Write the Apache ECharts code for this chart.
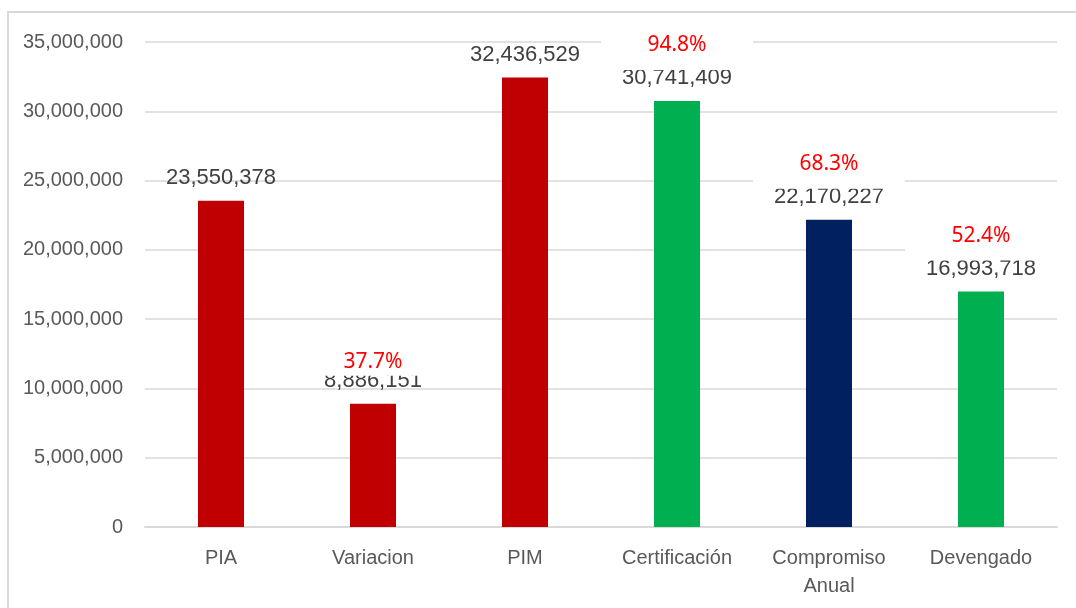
<!DOCTYPE html>
<html>
<head>
<meta charset="utf-8">
<script src="https://cdn.jsdelivr.net/npm/echarts@6/dist/echarts.min.js"></script>
<style>
  html, body { margin: 0; padding: 0; background: #fff; }
  #main { width: 1076px; height: 608px; }
</style>
</head>
<body>
<div id="main"></div>
<script>
// datos del grafico
const categories = ['PIA', 'Variacion', 'PIM', 'Certificación', 'Compromiso\nAnual', 'Devengado'];
const montos = [23550378, 8886151, 32436529, 30741409, 22170227, 16993718];
const avance = ['', '37.7%', '', '94.8%', '68.3%', '52.4%'];
const colores = ['#c00000', '#c00000', '#c00000', '#00b050', '#002060', '#00b050'];
const yTicks = [0, 5000000, 10000000, 15000000, 20000000, 25000000, 30000000, 35000000];

const fuente = "'Liberation Sans', Arial, sans-serif";

function miles(v) {
  return String(v).replace(/\B(?=(\d{3})+(?!\d))/g, ',');
}

const chart = echarts.init(document.getElementById('main'), null, { renderer: 'canvas' });

// etiqueta de porcentaje con fondo blanco (tapa la linea de la grilla)
const pctData = montos.map((v, i) => {
  if (!avance[i]) return '-';
  if (i === 1) {
    // en Variacion la caja queda mas baja y mas chica
    return { value: v, label: { offset: [0, -42], height: 28, lineHeight: 28 } };
  }
  return v;
});

let option = {
  backgroundColor: '#fff',
  animation: false,
  graphic: [
    {
      type: 'rect',
      shape: { x: 8, y: 12, width: 1200, height: 800 },
      style: { fill: 'none', stroke: '#d9d9d9', lineWidth: 2 },
      silent: true,
      z: -1,
    },
  ],
  grid: { left: 145, right: 19, top: 42, bottom: 81 },
  xAxis: {
    type: 'category',
    data: categories,
    axisLine: { lineStyle: { color: '#d9d9d9', width: 2 } },
    axisTick: { show: false },
    axisLabel: {
      color: '#595959',
      fontFamily: fuente,
      fontSize: 20,
      lineHeight: 28,
      margin: 17,
      interval: 0,
    },
  },
  yAxis: {
    type: 'value',
    min: yTicks[0],
    max: yTicks[yTicks.length - 1],
    interval: 5000000,
    axisLine: { show: false },
    axisTick: { show: false },
    splitLine: { lineStyle: { color: '#d9d9d9', width: 1.5 } },
    axisLabel: {
      color: '#595959',
      fontFamily: fuente,
      fontSize: 20,
      margin: 22,
      formatter: miles,
    },
  },
  series: [
    {
      type: 'bar',
      barWidth: 46,
      z: 2,
      data: montos.map((v, i) => ({ value: v, itemStyle: { color: colores[i] } })),
      label: {
        show: true,
        position: 'top',
        distance: 12,
        color: '#404040',
        fontFamily: fuente,
        fontSize: 22,
        formatter: p => miles(p.value),
      },
    },
    {
      type: 'scatter',
      z: 5,
      symbolSize: 1,
      itemStyle: { color: 'rgba(255,255,255,0)', opacity: 1 },
      data: pctData,
      label: {
        show: true,
        position: 'inside',
        offset: [0, -56],
        formatter: p => avance[p.dataIndex],
        color: '#ff0000',
        fontFamily: "'Noto Sans', sans-serif",
        fontSize: 21,
        backgroundColor: '#fff',
        width: 152,
        height: 50,
        lineHeight: 50,
        align: 'center',
        verticalAlign: 'middle',
      },
    },
  ],
};

chart.setOption(option);
</script>
</body>
</html>
